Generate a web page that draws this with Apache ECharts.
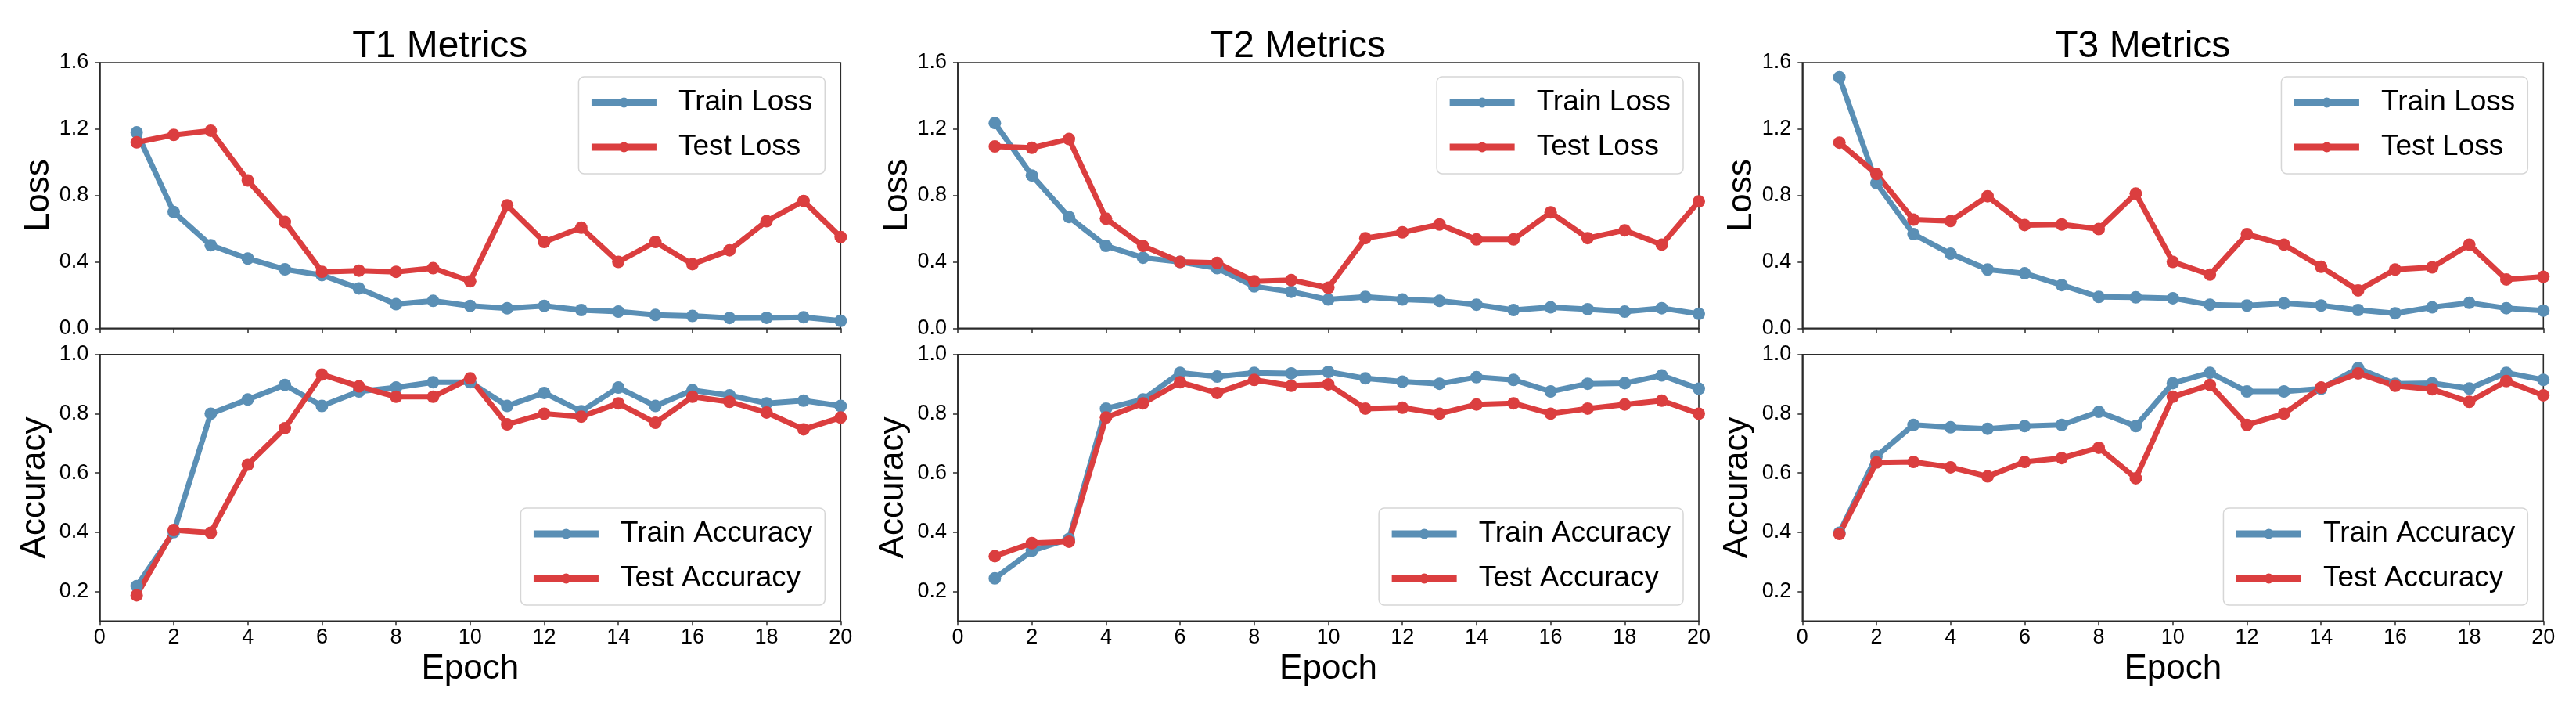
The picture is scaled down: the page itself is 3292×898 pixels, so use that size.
<!DOCTYPE html>
<html>
<head>
<meta charset="utf-8">
<script src="https://cdn.jsdelivr.net/npm/echarts@6/dist/echarts.min.js"></script>
<style>
  html, body { margin: 0; padding: 0; background: #fff; }
  #main { width: 3292px; height: 898px; }
</style>
</head>
<body>
<div id="main"></div>
<script>
// epochs 1..20
var epochs = [1,2,3,4,5,6,7,8,9,10,11,12,13,14,15,16,17,18,19,20];

// T1
var t1TrainLoss = [1.18,0.70,0.50,0.42,0.355,0.32,0.24,0.145,0.165,0.135,0.12,0.135,0.11,0.10,0.08,0.074,0.062,0.063,0.066,0.045];
var t1TestLoss  = [1.12,1.165,1.19,0.89,0.64,0.34,0.347,0.34,0.362,0.283,0.74,0.52,0.606,0.40,0.52,0.386,0.47,0.645,0.767,0.55];
var t1TrainAcc  = [0.218,0.40,0.80,0.848,0.897,0.826,0.875,0.888,0.906,0.906,0.826,0.87,0.808,0.888,0.826,0.879,0.862,0.835,0.844,0.826];
var t1TestAcc   = [0.187,0.407,0.398,0.628,0.751,0.932,0.892,0.857,0.857,0.919,0.764,0.80,0.79,0.835,0.769,0.857,0.84,0.804,0.747,0.787];

// T2
var t2TrainLoss = [1.236,0.92,0.67,0.496,0.425,0.40,0.362,0.252,0.22,0.173,0.189,0.173,0.165,0.142,0.11,0.126,0.115,0.10,0.121,0.087];
var t2TestLoss  = [1.095,1.087,1.14,0.66,0.496,0.40,0.394,0.283,0.29,0.244,0.543,0.578,0.625,0.535,0.535,0.698,0.543,0.59,0.504,0.764];
var t2TrainAcc  = [0.244,0.337,0.377,0.817,0.848,0.938,0.925,0.938,0.936,0.941,0.919,0.908,0.901,0.923,0.914,0.875,0.901,0.903,0.929,0.884];
var t2TestAcc   = [0.319,0.363,0.368,0.787,0.835,0.906,0.87,0.914,0.894,0.899,0.817,0.82,0.80,0.831,0.835,0.80,0.817,0.831,0.844,0.80];

// T3
var t3TrainLoss = [1.512,0.874,0.567,0.449,0.354,0.331,0.26,0.189,0.186,0.181,0.142,0.137,0.15,0.137,0.11,0.09,0.126,0.153,0.121,0.106];
var t3TestLoss  = [1.118,0.929,0.654,0.646,0.795,0.622,0.625,0.598,0.811,0.40,0.323,0.567,0.504,0.37,0.228,0.354,0.367,0.504,0.294,0.31];
var t3TrainAcc  = [0.398,0.656,0.762,0.754,0.749,0.758,0.762,0.806,0.758,0.903,0.938,0.875,0.875,0.884,0.954,0.901,0.903,0.885,0.938,0.914];
var t3TestAcc   = [0.394,0.635,0.637,0.619,0.588,0.637,0.65,0.685,0.582,0.857,0.897,0.762,0.80,0.888,0.936,0.894,0.882,0.84,0.91,0.862];

var panelTitles = ['T1 Metrics','T2 Metrics','T3 Metrics'];
var lossTicks = [0, 0.4, 0.8, 1.2, 1.6];
var accTicks = [0.2, 0.4, 0.6, 0.8, 1.0];

var panels = [
    {train: t1TrainLoss, test: t1TestLoss, trainAcc: t1TrainAcc, testAcc: t1TestAcc},
    {train: t2TrainLoss, test: t2TestLoss, trainAcc: t2TrainAcc, testAcc: t2TestAcc},
    {train: t3TrainLoss, test: t3TestLoss, trainAcc: t3TrainAcc, testAcc: t3TestAcc}
];

var W = 3292, H = 898;
var FONT = "'Liberation Sans', Arial, sans-serif";
var BLUE = '#5a8fb5';
var RED = '#db3e3f';
var gridLefts = [127.3, 1224, 2303.3];
var gridW = 947;
var lossTop = 80, lossH = 339.3;
var accTop = 452.7, accH = 340.6;

function pairs(ys) {
    return epochs.map(function (e, i) { return [e, ys[i]]; });
}

var grids = [], xAxes = [], yAxes = [], series = [], titles = [], legends = [];

function addAxes(gi, left, top, height, isAcc) {
    grids.push({left: left, top: top, width: gridW, height: height, show: true,
        borderColor: '#2b2b2b', borderWidth: 1.6, backgroundColor: 'transparent',
        outerBoundsMode: 'none'});
    xAxes.push({
        type: 'value', gridIndex: gi, min: 0, max: 20, interval: 2,
        name: isAcc ? 'Epoch' : '', nameLocation: 'middle', nameGap: 40,
        nameTextStyle: {fontSize: 44, fontFamily: FONT, color: '#000'},
        axisLine: {show: true, onZero: false, lineStyle: {color: '#2b2b2b', width: 1.6}},
        axisTick: {show: true, length: 6, lineStyle: {color: '#2b2b2b', width: 1.5}},
        axisLabel: {show: isAcc, fontSize: 27, fontFamily: FONT, color: '#000', margin: 8},
        splitLine: {show: false}
    });
    var y = {
        type: 'value', gridIndex: gi,
        name: isAcc ? 'Accuracy' : 'Loss', nameLocation: 'middle', nameGap: isAcc ? 60 : 54,
        nameTextStyle: {fontSize: 44, fontFamily: FONT, color: '#000'},
        axisLine: {show: true, onZero: false, lineStyle: {color: '#2b2b2b', width: 1.6}},
        axisTick: {show: true, length: 6, lineStyle: {color: '#2b2b2b', width: 1.5}},
        axisLabel: {fontSize: 27, fontFamily: FONT, color: '#000', margin: 14,
            formatter: function (v) { return v.toFixed(1); }},
        splitLine: {show: false}
    };
    if (isAcc) {
        y.min = 0.1; y.max = 1.0;
        y.axisTick.customValues = accTicks;
        y.axisLabel.customValues = accTicks;
    } else {
        y.min = 0; y.max = 1.6; y.interval = 0.4;
    }
    yAxes.push(y);
}

function addLine(name, gi, ys, color) {
    series.push({
        type: 'line', name: name, xAxisIndex: gi, yAxisIndex: gi,
        data: pairs(ys), symbol: 'circle', symbolSize: 16,
        lineStyle: {width: 7, color: color}, itemStyle: {color: color},
        emphasis: {disabled: true}
    });
}

function addLegend(names, gi, isAcc) {
    var gridRight = gridLefts[gi] + gridW;
    var lg = {
        data: names, orient: 'vertical',
        right: W - (gridRight - 20),
        itemWidth: 83, itemHeight: 16, itemGap: 15,
        padding: [12, 16, 13, 12],
        backgroundColor: '#fff', borderColor: '#d6d6d6', borderWidth: 1.5, borderRadius: 7,
        lineStyle: {width: 9},
        itemStyle: {borderWidth: 0},
        textStyle: {fontSize: 37, fontFamily: FONT, color: '#000', lineHeight: 42, padding: [0, 0, 0, 23]}
    };
    if (isAcc) { lg.bottom = H - 773; } else { lg.top = 98; }
    legends.push(lg);
}

panels.forEach(function (p, k) {
    var left = gridLefts[k];
    var gLoss = k * 2, gAcc = k * 2 + 1;
    addAxes(gLoss, left, lossTop, lossH, false);
    addAxes(gAcc, left, accTop, accH, true);
    addLine('Train Loss', gLoss, p.train, BLUE);
    addLine('Test Loss', gLoss, p.test, RED);
    addLine('Train Accuracy', gAcc, p.trainAcc, BLUE);
    addLine('Test Accuracy', gAcc, p.testAcc, RED);
    addLegend(['Train Loss', 'Test Loss'], k, false);
    addLegend(['Train Accuracy', 'Test Accuracy'], k, true);
    titles.push({
        text: panelTitles[k], left: left + 318, top: 31,
        textStyle: {fontSize: 48, fontWeight: 'normal', fontFamily: FONT, color: '#000', lineHeight: 48}
    });
});

var chart = echarts.init(document.getElementById('main'), null, {renderer: 'canvas'});
chart.setOption({
    animation: false,
    backgroundColor: '#fff',
    title: titles,
    legend: legends,
    grid: grids,
    xAxis: xAxes,
    yAxis: yAxes,
    series: series
});
</script>
</body>
</html>
